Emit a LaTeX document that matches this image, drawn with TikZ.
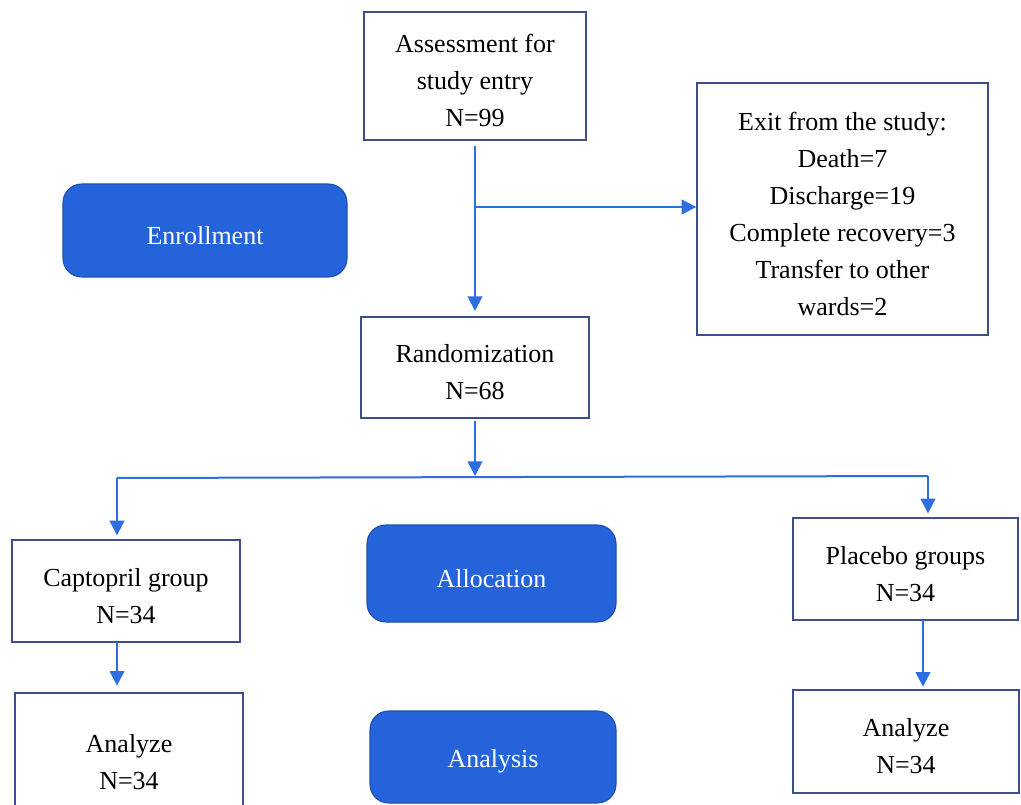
\documentclass[tikz,border=0pt]{standalone}
\usepackage{fontspec}
\setmainfont{Liberation Serif}
\usetikzlibrary{arrows.meta,calc}
\definecolor{boxc}{RGB}{62,78,140}
\definecolor{fillb}{RGB}{37,99,219}
\definecolor{arrc}{RGB}{47,110,225}
\tikzset{
  txt/.style={align=center, inner sep=0pt, yshift=-3.5pt, font=\fontsize{19.5}{27.75}\selectfont},
  wbox/.style={draw=boxc, line width=1pt, fill=white, inner sep=0pt,
    label={[txt]center:#1}},
  bbox/.style={draw=fillb!80!black, line width=0.8pt, fill=fillb, rounded corners=14pt,
    inner sep=0pt, label={[txt, text=white]center:#1}},
  arr/.style={draw=arrc, line width=1.5pt, -{Triangle[length=11pt,width=11pt]}},
  ln/.style={draw=arrc, line width=1.5pt},
}
\begin{document}
\begin{tikzpicture}[x=0.75pt,y=-0.75pt]
\clip (0,0) rectangle (1021,805);
\fill[white] (0,0) rectangle (1021,805);
% white boxes
\node[wbox={Assessment for\\study entry\\N=99}, minimum width=166.5pt, minimum height=96pt] (assess) at (475,76) {};
\node[wbox={Exit from the study:\\Death=7\\Discharge=19\\Complete recovery=3\\Transfer to other\\wards=2}, minimum width=218.25pt, minimum height=189pt] (exit) at (842.5,209) {};
\node[wbox={Randomization\\N=68}, minimum width=171pt, minimum height=75.75pt] (rand) at (475,367.5) {};
\node[wbox={Captopril group\\N=34}, minimum width=171pt, minimum height=76.5pt] (capto) at (126,591) {};
\node[wbox={Placebo groups\\N=34}, minimum width=168.75pt, minimum height=76.5pt] (placebo) at (905.5,569) {};
\node[wbox={Analyze\\N=34}, minimum width=171pt, minimum height=96pt] (anL) at (129,757) {};
\node[wbox={Analyze\\N=34}, minimum width=169.5pt, minimum height=77.25pt] (anR) at (906,741.5) {};
% blue boxes
\node[bbox={Enrollment}, minimum width=213pt, minimum height=69.75pt] (enroll) at (205,230.5) {};
\node[bbox={Allocation}, minimum width=186.75pt, minimum height=72.75pt] (alloc) at (491.5,573.5) {};
\node[bbox={Analysis}, minimum width=184.5pt, minimum height=69pt] (analysis) at (493,757) {};
% connectors
\coordinate (b1) at (475,207);
\coordinate (split) at (475,476);
\coordinate (hl) at (117,478);
\coordinate (hr) at (928,476);
\draw[arr, shorten <=4pt, shorten >=4pt] (assess.south) -- (assess.south |- rand.north);
\draw[arr] (b1) -- (b1 -| exit.west);
\draw[arr, shorten <=2pt] (rand.south) -- (split);
\draw[ln] (hl) -- (hr);
\draw[arr, shorten >=3pt] (hl) -- (hl |- capto.north);
\draw[arr, shorten >=3pt] (hr) -- (hr |- placebo.north);
\coordinate (c1) at (117,642);
\coordinate (c2) at (923,620);
\draw[arr, shorten >=5pt] (c1) -- (c1 |- anL.north);
\draw[arr, shorten >=2pt] (c2) -- (c2 |- anR.north);
\end{tikzpicture}
\end{document}
